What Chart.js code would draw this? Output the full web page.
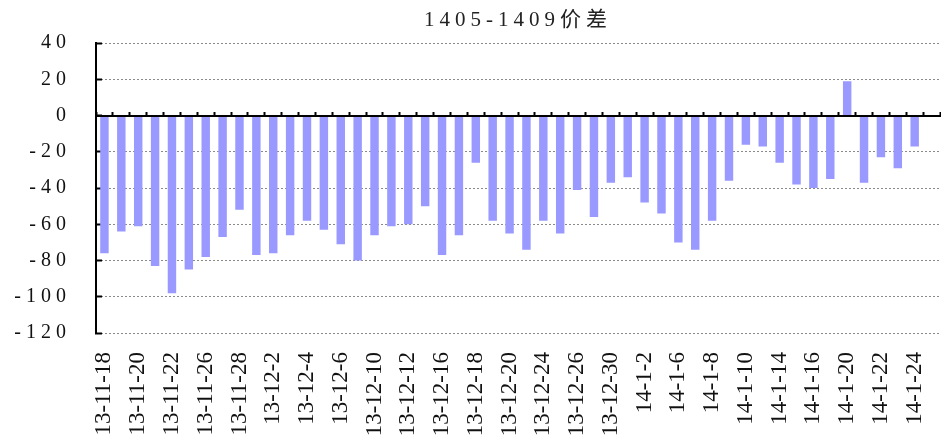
<!DOCTYPE html>
<html>
<head>
<meta charset="utf-8">
<script src="https://cdn.jsdelivr.net/npm/chart.js@4.4.1/dist/chart.umd.min.js"></script>
<style>
  html, body { margin: 0; padding: 0; background: #fff; }
  #wrap { position: relative; width: 941px; height: 439px; }
</style>
</head>
<body>
<div id="wrap"><canvas id="spread"></canvas></div>
<script>
// trading days, 1405-1409 spread
const dates = [
  '13-11-18', '13-11-19', '13-11-20', '13-11-21', '13-11-22', '13-11-25', '13-11-26', '13-11-27', '13-11-28', '13-11-29',
  '13-12-2', '13-12-3', '13-12-4', '13-12-5', '13-12-6', '13-12-9', '13-12-10', '13-12-11', '13-12-12', '13-12-13',
  '13-12-16', '13-12-17', '13-12-18', '13-12-19', '13-12-20', '13-12-23', '13-12-24', '13-12-25', '13-12-26', '13-12-27',
  '13-12-30', '13-12-31', '14-1-2', '14-1-3', '14-1-6', '14-1-7', '14-1-8', '14-1-9', '14-1-10', '14-1-13',
  '14-1-14', '14-1-15', '14-1-16', '14-1-17', '14-1-20', '14-1-21', '14-1-22', '14-1-23', '14-1-24', '14-1-27'
];
const spread = [
  -76, -64, -61, -83, -98, -85, -78, -67, -52, -77,
  -76, -66, -58, -63, -71, -80, -66, -61, -60, -50,
  -77, -66, -26, -58, -65, -74, -58, -65, -41, -56,
  -37, -34, -48, -54, -70, -74, -58, -36, -16, -17,
  -26, -38, -40, -35, 19, -37, -23, -29, -17, null
];
const yMin = -120;
const yMax = 40;
const yStep = 20;

const serif = "'Liberation Serif', 'Noto Sans CJK SC', serif";

// wide-looking numerals for the title and value axis, plain for the dates
const spacing = {
  id: 'spacing',
  beforeDraw(chart) { chart.ctx.letterSpacing = '5px'; },
  beforeDatasetsDraw(chart) { chart.ctx.letterSpacing = '0px'; }
};

new Chart(document.getElementById('spread'), {
  type: 'bar',
  data: {
    labels: dates,
    datasets: [{
      data: spread,
      backgroundColor: '#9999ff',
      barPercentage: 0.5,
      categoryPercentage: 1
    }]
  },
  options: {
    responsive: true,
    maintainAspectRatio: false,
    animation: false,
    layout: { padding: { left: 0, right: 1, top: 0, bottom: 0 } },
    plugins: {
      legend: { display: false },
      tooltip: { enabled: false },
      title: {
        display: true,
        text: '1405-1409价差',
        fullSize: false,
        color: '#222',
        font: { family: serif, size: 21, weight: 'normal' },
        padding: { top: 8, bottom: 10 }
      }
    },
    scales: {
      x: {
        offset: true,
        grid: { display: false, drawTicks: false },
        border: { display: false },
        ticks: {
          autoSkip: false,
          minRotation: 90,
          maxRotation: 90,
          padding: 19,
          color: '#111',
          z: 1,
          font: { family: serif, size: 23 },
          callback: (v, i) => i % 2 === 0 ? dates[i] : ''
        },
        afterFit: s => { s.height = 106; s.paddingLeft = 0; s.paddingRight = 0; }
      },
      x0: {
        type: 'category',
        position: { y: 0 },
        offset: true,
        grid: { offset: true, drawOnChartArea: false, tickLength: -5, tickColor: '#000', tickWidth: 2, z: 1 },
        border: { color: '#000', width: 2, z: 1 },
        ticks: { display: false }
      },
      y: {
        min: yMin,
        max: yMax,
        ticks: {
          stepSize: yStep,
          padding: 31,
          color: '#111',
          font: { family: serif, size: 20 }
        },
        grid: { color: '#8a8a8a', tickLength: -6, tickColor: '#000', tickWidth: 2 },
        border: { color: '#000', width: 2, dash: [2, 2] },
        afterFit: s => { s.width = 96; }
      }
    }
  },
  plugins: [spacing]
});
</script>
</body>
</html>
